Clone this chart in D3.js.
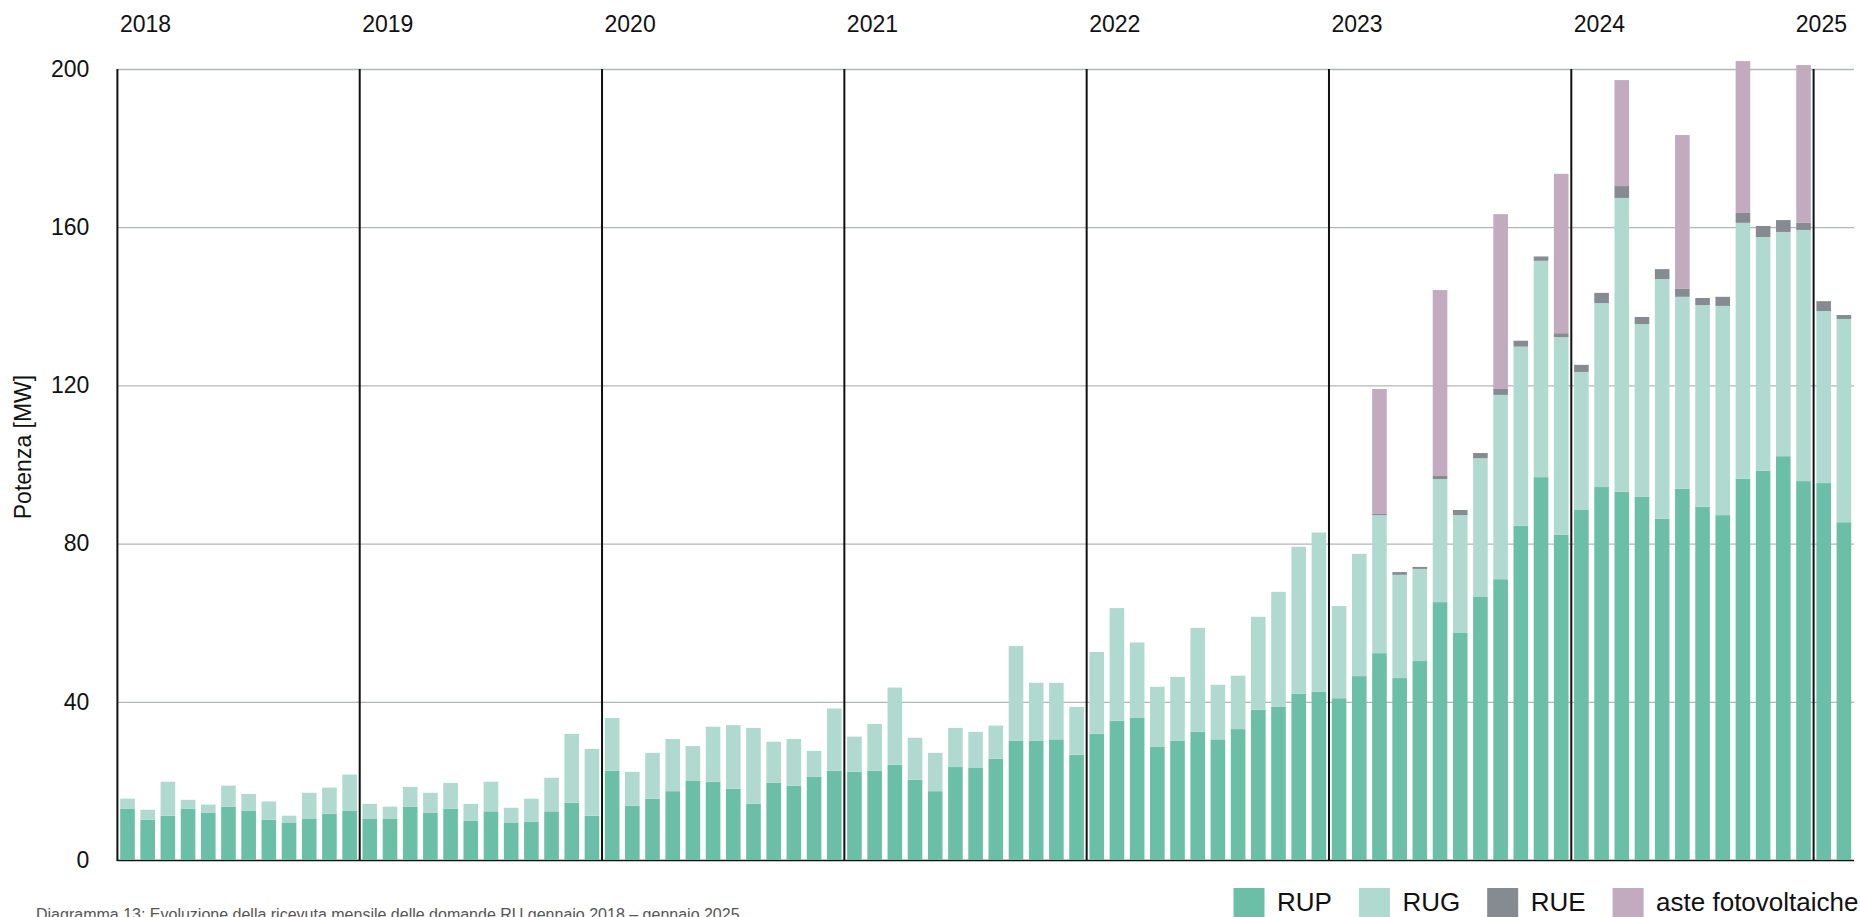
<!DOCTYPE html>
<html>
<head>
<meta charset="utf-8">
<script src="https://cdn.jsdelivr.net/npm/d3@7"></script>
<style>
  body { margin: 0; background: #fff; }
  svg { display: block; font-family: "Liberation Sans", Arial, sans-serif; }
</style>
</head>
<body>
<div id="my_dataviz"></div>
<script>
// categories: one bar per month, gennaio 2018 - febbraio 2025
var years = [2018, 2019, 2020, 2021, 2022, 2023, 2024, 2025];
var monthNames = ["gen", "feb", "mar", "apr", "mag", "giu", "lug", "ago", "set", "ott", "nov", "dic"];

// series values [MW]
var rup = [
  13.0, 10.2, 11.2, 13.0, 12.0, 13.5, 12.4, 10.2, 9.5, 10.5, 11.7, 12.4,
  10.5, 10.5, 13.5, 12.0, 13.0, 9.9, 12.3, 9.5, 9.6, 12.3, 14.5, 11.2,
  22.6, 13.7, 15.5, 17.4, 20.1, 19.8, 18.0, 14.2, 19.5, 18.8, 21.0, 22.6,
  22.3, 22.6, 24.1, 20.3, 17.4, 23.5, 23.4, 25.6, 30.2, 30.2, 30.5, 26.6,
  31.9, 35.2, 35.9, 28.7, 30.2, 32.4, 30.5, 33.1, 38.0, 38.7, 42.0, 42.6,
  40.9, 46.5, 52.3, 46.0, 50.3, 65.2, 57.4, 66.5, 71.0, 84.5, 96.8, 82.2,
  88.5, 94.3, 93.1, 91.8, 86.3, 93.9, 89.3, 87.2, 96.4, 98.4, 102.1, 95.8,
  95.3, 85.4
];
var rug = [
  2.5, 2.5, 8.6, 2.2, 2.0, 5.3, 4.3, 4.6, 1.7, 6.5, 6.6, 9.2,
  3.7, 3.0, 5.0, 5.0, 6.5, 4.3, 7.5, 3.7, 5.9, 8.5, 17.4, 16.9,
  13.3, 8.6, 11.6, 13.2, 8.7, 13.9, 16.1, 19.2, 10.4, 11.8, 6.6, 15.7,
  8.9, 11.8, 19.5, 10.6, 9.7, 9.9, 9.0, 8.4, 23.9, 14.6, 14.3, 12.1,
  20.7, 28.5, 19.1, 15.1, 16.1, 26.3, 13.8, 13.5, 23.5, 29.1, 37.2, 40.2,
  23.3, 30.9, 34.9, 26.1, 23.3, 31.1, 29.8, 35.1, 46.6, 45.3, 54.7, 50.0,
  34.9, 46.5, 74.3, 43.7, 60.6, 48.5, 51.0, 52.9, 64.7, 59.1, 56.7, 63.5,
  43.5, 51.4
];
var rue = [
  0, 0, 0, 0, 0, 0, 0, 0, 0, 0, 0, 0,
  0, 0, 0, 0, 0, 0, 0, 0, 0, 0, 0, 0,
  0, 0, 0, 0, 0, 0, 0, 0, 0, 0, 0, 0,
  0, 0, 0, 0, 0, 0, 0, 0, 0, 0, 0, 0,
  0, 0, 0, 0, 0, 0, 0, 0, 0, 0, 0, 0,
  0, 0, 0.3, 0.7, 0.5, 0.8, 1.3, 1.3, 1.5, 1.5, 1.1, 1.0,
  1.8, 2.6, 3.0, 1.8, 2.5, 2.0, 1.8, 2.3, 2.5, 2.8, 3.0, 1.8,
  2.5, 1.0
];
var aste = [
  0, 0, 0, 0, 0, 0, 0, 0, 0, 0, 0, 0,
  0, 0, 0, 0, 0, 0, 0, 0, 0, 0, 0, 0,
  0, 0, 0, 0, 0, 0, 0, 0, 0, 0, 0, 0,
  0, 0, 0, 0, 0, 0, 0, 0, 0, 0, 0, 0,
  0, 0, 0, 0, 0, 0, 0, 0, 0, 0, 0, 0,
  0, 0, 31.6, 0, 0, 47.0, 0, 0, 44.2, 0, 0, 40.3,
  0, 0, 26.8, 0, 0, 38.9, 0, 0, 38.4, 0, 0, 39.9,
  0, 0
];

var seriesKeys = ["RUP", "RUG", "RUE", "aste fotovoltaiche"];
var seriesColors = ["#6bbfa6", "#b0dad0", "#868b91", "#c2abbf"];
var yTicks = [0, 40, 80, 120, 160, 200];
var yLabel = "Potenza [MW]";
var caption = "Diagramma 13: Evoluzione della ricevuta mensile delle domande RU gennaio 2018 \u2013 gennaio 2025";

// build the month table for the stack
var categories = [];
years.forEach(function (yr) {
  monthNames.forEach(function (m) {
    if (categories.length < rup.length) categories.push(m + " " + yr);
  });
});
var table = categories.map(function (c, i) {
  return { cat: c, "RUP": rup[i], "RUG": rug[i], "RUE": rue[i], "aste fotovoltaiche": aste[i] };
});

// dimensions
var W = 1860, H = 917;
var plotLeft = 117.4, plotRight = 1854, plotTop = 69, plotBottom = 860;

var svg = d3.select("#my_dataviz")
  .append("svg")
    .attr("width", W)
    .attr("height", H);

// scales
var pad = 0.277;
var x = d3.scaleBand()
  .domain(categories)
  .range([plotLeft, plotRight])
  .paddingInner(pad)
  .paddingOuter(pad / 2);

var y = d3.scaleLinear()
  .domain([0, 200])
  .range([plotBottom, plotTop]);

var color = d3.scaleOrdinal().domain(seriesKeys).range(seriesColors);

// horizontal gridlines
svg.append("g")
  .attr("transform", "translate(" + plotLeft + ",0)")
  .call(d3.axisLeft(y).tickValues(yTicks.slice(1)).tickSize(-(plotRight - plotLeft)).tickFormat(""))
  .call(function (g) { g.select(".domain").remove(); })
  .call(function (g) { g.selectAll("line").attr("stroke", "#b3b6b9").attr("stroke-width", 1.3); });

// y tick labels
svg.append("g")
  .attr("transform", "translate(" + plotLeft + ",0)")
  .call(d3.axisLeft(y).tickValues(yTicks).tickSize(0).tickPadding(28))
  .call(function (g) { g.select(".domain").remove(); })
  .call(function (g) {
    g.selectAll("text")
      .attr("font-size", 23)
      .attr("font-family", "'Liberation Sans', Arial, sans-serif")
      .attr("fill", "#111");
  });

// bottom line (under the bars)
svg.append("line")
  .attr("x1", plotLeft).attr("x2", plotRight)
  .attr("y1", y(0) + 0.5).attr("y2", y(0) + 0.5)
  .attr("stroke", "#111")
  .attr("stroke-width", 1.5);

// stacked bars
var stacked = d3.stack().keys(seriesKeys)(table);

svg.append("g")
  .selectAll("g")
  .data(stacked)
  .enter()
    .append("g")
    .attr("fill", function (d) { return color(d.key); })
  .selectAll("rect")
  .data(function (d) { return d; })
  .enter()
    .append("rect")
    .attr("x", function (d) { return x(d.data.cat); })
    .attr("y", function (d) { return y(d[1]); })
    .attr("width", x.bandwidth())
    .attr("height", function (d) { return Math.max(0, y(d[0]) - y(d[1])); });

// year separators and labels
var half = x.step() * pad / 2;

svg.append("g")
  .selectAll("line")
  .data(years)
  .enter()
    .append("line")
    .attr("x1", function (d) { return x("gen " + d) - half; })
    .attr("x2", function (d) { return x("gen " + d) - half; })
    .attr("y1", y(200))
    .attr("y2", y(0) + 1)
    .attr("stroke", "#111")
    .attr("stroke-width", 2);

svg.append("g")
  .selectAll("text")
  .data(years)
  .enter()
    .append("text")
    .attr("y", 32)
    .attr("font-size", 23)
    .attr("fill", "#111")
    .text(function (d) { return d; })
    .attr("x", function (d) {
      var w = this.getComputedTextLength();
      return Math.min(x("gen " + d) - half + 2.5, W - 13 - w);
    });

// y axis title
svg.append("text")
  .attr("transform", "translate(31,447) rotate(-90)")
  .attr("text-anchor", "middle")
  .attr("font-size", 23)
  .attr("fill", "#111")
  .text(yLabel);

// legend
var legend = svg.append("g");
var lx = 1233.5;
seriesKeys.forEach(function (k) {
  legend.append("rect")
    .attr("x", lx).attr("y", 888)
    .attr("width", 31).attr("height", 32)
    .attr("fill", color(k));
  var t = legend.append("text")
    .attr("x", lx + 43.5)
    .attr("y", 911)
    .attr("font-size", 26)
    .attr("fill", "#111")
    .text(k);
  lx += 43.5 + t.node().getComputedTextLength() + 27;
});

// caption (cut by the bottom edge, as in the original)
svg.append("text")
  .attr("x", 36)
  .attr("y", 920)
  .attr("font-size", 16)
  .attr("fill", "#555")
  .text(caption);
</script>
</body>
</html>
